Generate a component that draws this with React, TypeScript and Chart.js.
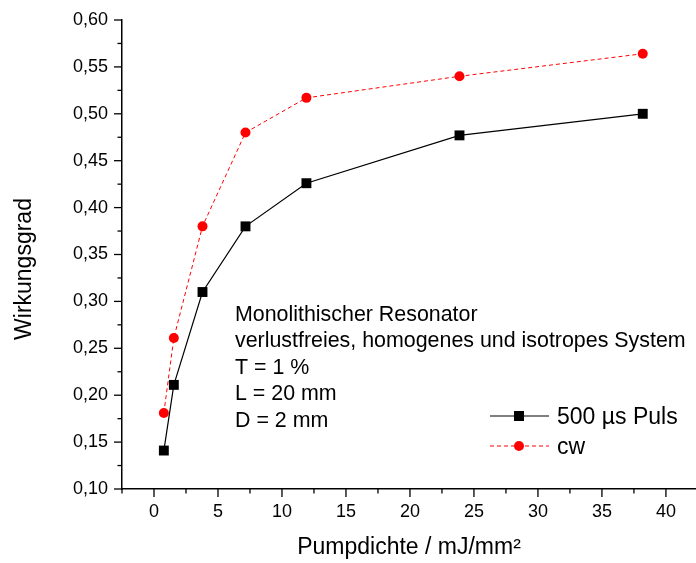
import React, { useEffect, useRef } from "react";
import { Chart, registerables } from "chart.js";

Chart.register(...registerables);

// ---- data ----
const pumpdichte = [0.77, 1.55, 3.79, 7.15, 11.91, 23.87, 38.19];
const pulsValues = [0.141, 0.211, 0.31, 0.38, 0.426, 0.477, 0.5];
const cwValues = [0.181, 0.261, 0.38, 0.48, 0.517, 0.54, 0.564];

const xMajorTicks = [0, 5, 10, 15, 20, 25, 30, 35, 40];
const xMinorTicks = [-2.5, 2.5, 7.5, 12.5, 17.5, 22.5, 27.5, 32.5, 37.5];
const yMajorTicks = [0.1, 0.15, 0.2, 0.25, 0.3, 0.35, 0.4, 0.45, 0.5, 0.55, 0.6];
const yMinorTicks = [0.125, 0.175, 0.225, 0.275, 0.325, 0.375, 0.425, 0.475, 0.525, 0.575];

const seriesNames = ["500 µs Puls", "cw"];
const noteLines = [
  "Monolithischer Resonator",
  "verlustfreies, homogenes und isotropes System",
  "T = 1 %",
  "L = 20 mm",
  "D = 2 mm",
];
const xTitle = "Pumpdichte / mJ/mm²";
const yTitle = "Wirkungsgrad";

const FONT = '"Liberation Sans", Arial, Helvetica, sans-serif';

const zeroPadding = (scale: any) => {
  scale.paddingTop = 0;
  scale.paddingBottom = 0;
  scale.paddingLeft = 0;
  scale.paddingRight = 0;
};

const decorPlugin = {
  id: "decor",
  afterDraw(chart: any) {
    const { ctx, chartArea, scales } = chart;
    const x = scales.x;
    const y = scales.y;
    ctx.save();
    ctx.strokeStyle = "#000";
    ctx.lineWidth = 1.3;
    ctx.setLineDash([]);
    const bottom = chartArea.bottom;
    const left = chartArea.left;
    const tick = (x1: number, y1: number, x2: number, y2: number) => {
      ctx.beginPath();
      ctx.moveTo(x1, y1);
      ctx.lineTo(x2, y2);
      ctx.stroke();
    };
    for (const v of xMajorTicks) {
      const p = x.getPixelForValue(v);
      tick(p, bottom, p, bottom + 8);
    }
    for (const v of xMinorTicks) {
      const p = x.getPixelForValue(v);
      tick(p, bottom, p, bottom + 4.5);
    }
    for (const v of yMajorTicks) {
      const p = y.getPixelForValue(v);
      tick(left, p, left - 8, p);
    }
    for (const v of yMinorTicks) {
      const p = y.getPixelForValue(v);
      tick(left, p, left - 4.5, p);
    }

    // y title
    ctx.save();
    ctx.translate(24.5, 269);
    ctx.rotate(-Math.PI / 2);
    ctx.font = `23px ${FONT}`;
    ctx.fillStyle = "#000";
    ctx.textAlign = "center";
    ctx.textBaseline = "middle";
    ctx.fillText(yTitle, 0, 0);
    ctx.restore();

    // notes
    ctx.font = `21.4px ${FONT}`;
    ctx.fillStyle = "#000";
    ctx.textAlign = "left";
    ctx.textBaseline = "alphabetic";
    noteLines.forEach((t, i) => {
      ctx.fillText(t, 235, 320.7 + i * 26.5);
    });

    // legend
    const ds = chart.data.datasets;
    const rows = [416, 446];
    rows.forEach((ry, i) => {
      const d = ds[i];
      ctx.save();
      ctx.strokeStyle = d.borderColor;
      ctx.lineWidth = d.borderWidth;
      ctx.setLineDash(d.borderDash || []);
      ctx.beginPath();
      ctx.moveTo(490, ry);
      ctx.lineTo(549, ry);
      ctx.stroke();
      ctx.setLineDash([]);
      ctx.fillStyle = d.backgroundColor;
      if (d.pointStyle === "rect") {
        ctx.fillRect(514, ry - 5, 10, 10);
      } else {
        ctx.beginPath();
        ctx.arc(519, ry, 5, 0, Math.PI * 2);
        ctx.fill();
      }
      ctx.restore();
      ctx.font = `23px ${FONT}`;
      ctx.fillStyle = "#000";
      ctx.textAlign = "left";
      ctx.textBaseline = "alphabetic";
      ctx.fillText(seriesNames[i], 557, ry + 8.3);
    });
    ctx.restore();
  },
};

export default function App() {
  const ref = useRef<HTMLCanvasElement | null>(null);
  useEffect(() => {
    document.body.style.margin = "0";
    const canvas = ref.current;
    if (!canvas) return;
    const chart = new Chart(canvas, {
      type: "line",
      data: {
        datasets: [
          {
            label: seriesNames[0],
            data: pumpdichte.map((v, i) => ({ x: v, y: pulsValues[i] })),
            borderColor: "#000000",
            backgroundColor: "#000000",
            borderWidth: 1.2,
            pointStyle: "rect",
            pointRadius: 7,
            pointBorderWidth: 0,
            pointBackgroundColor: "#000000",
            tension: 0,
          } as any,
          {
            label: seriesNames[1],
            data: pumpdichte.map((v, i) => ({ x: v, y: cwValues[i] })),
            borderColor: "#ff0000",
            backgroundColor: "#ff0000",
            borderWidth: 1,
            borderDash: [4, 3],
            pointStyle: "circle",
            pointRadius: 5,
            pointBorderWidth: 0,
            pointBackgroundColor: "#ff0000",
            tension: 0,
          } as any,
        ],
      },
      options: {
        animation: false,
        responsive: false,
        maintainAspectRatio: false,
        layout: { autoPadding: false, padding: { top: 20, left: 0, right: 0, bottom: 0 } },
        plugins: {
          legend: { display: false },
          tooltip: { enabled: false },
        },
        scales: {
          x: {
            type: "linear",
            min: -2.5,
            max: 42.35,
            grid: { display: false, drawTicks: false },
            border: { display: true, color: "#000", width: 1.5 },
            afterBuildTicks: (scale: any) => {
              scale.ticks = xMajorTicks.map((v) => ({ value: v }));
            },
            afterFit: (scale: any) => {
              scale.height = 74;
              zeroPadding(scale);
            },
            ticks: {
              autoSkip: false,
              maxRotation: 0,
              padding: 12,
              color: "#000",
              font: { family: FONT, size: 18 },
              callback: (v: any) => String(v),
            },
            title: {
              display: true,
              text: xTitle,
              color: "#000",
              font: { family: FONT, size: 23 },
              padding: { top: 0, bottom: 1.5 },
            },
          },
          y: {
            type: "linear",
            min: 0.1,
            max: 0.6,
            grid: { display: false, drawTicks: false },
            border: { display: true, color: "#000", width: 1.5 },
            afterBuildTicks: (scale: any) => {
              scale.ticks = yMajorTicks.map((v) => ({ value: v }));
            },
            afterFit: (scale: any) => {
              scale.width = 122;
              zeroPadding(scale);
            },
            ticks: {
              autoSkip: false,
              padding: 14,
              color: "#000",
              font: { family: FONT, size: 18 },
              callback: (v: any) => Number(v).toFixed(2).replace(".", ","),
            },
          },
        },
      },
      plugins: [decorPlugin],
    });
    return () => chart.destroy();
  }, []);
  return (
    <div style={{ position: "absolute", left: 0, top: 0, width: 696, height: 563 }}>
      <canvas ref={ref} width={696} height={563} />
    </div>
  );
}
